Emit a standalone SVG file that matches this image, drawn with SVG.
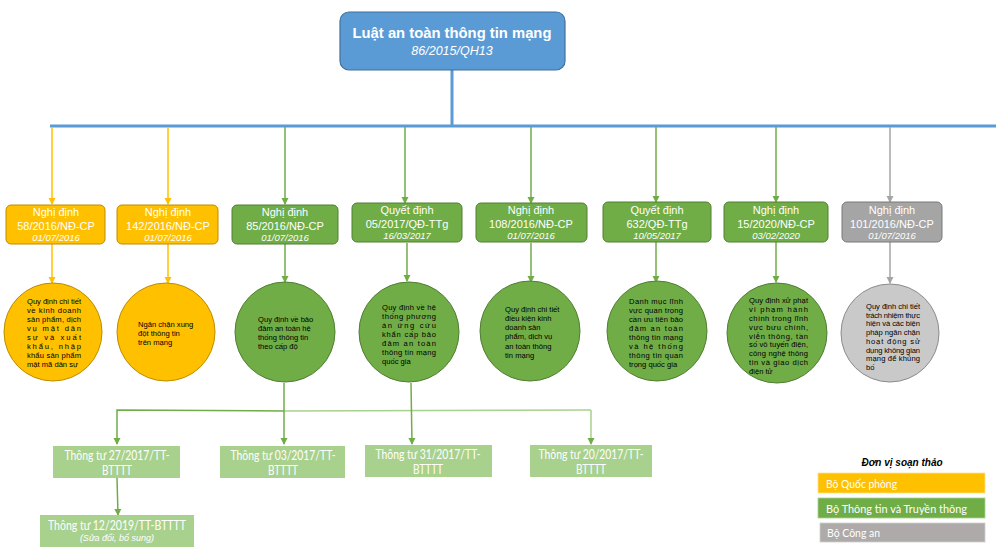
<svg xmlns="http://www.w3.org/2000/svg" width="1000" height="556" viewBox="0 0 1000 556">
<style>
  .sans{font-family:"Liberation Sans",Arial,sans-serif}
  .cal{font-family:Lato,"Open Sans",sans-serif}
  .bt{fill:#fff;font-size:11px;text-anchor:middle}
  .bd{fill:#fff;font-size:9.5px;font-style:italic;text-anchor:middle}
  .ct{fill:#000;font-size:7.6px}
  .or{fill:#ffc000;stroke:#bc8c00;stroke-width:1}
  .gr{fill:#70ad47;stroke:#507e32;stroke-width:1}
  .gy{fill:#a5a5a5;stroke:#787878;stroke-width:1}
  .cgy{fill:#c9c9c9;stroke:#8c8c8c;stroke-width:1}
  .lg{fill:#a9d18e}
  .lo{stroke:#ffc000;stroke-width:1.5;fill:none}
  .lgn{stroke:#70ad47;stroke-width:1.5;fill:none}
  .lgy{stroke:#a5a5a5;stroke-width:1.5;fill:none}
  .llg{stroke:#a9d18e;stroke-width:1.5;fill:none}
  .tt{fill:#fff;font-size:13px;text-anchor:middle}
</style>
<defs>
  <marker id="ao" markerWidth="8" markerHeight="8" refX="6" refY="4" orient="auto" markerUnits="userSpaceOnUse" viewBox="0 0 8 8"><path d="M0,0.5 L7,4 L0,7.5 Z" fill="#ffc000"/></marker>
  <marker id="ag" markerWidth="8" markerHeight="8" refX="6" refY="4" orient="auto" markerUnits="userSpaceOnUse" viewBox="0 0 8 8"><path d="M0,0.5 L7,4 L0,7.5 Z" fill="#70ad47"/></marker>
  <marker id="ay" markerWidth="8" markerHeight="8" refX="6" refY="4" orient="auto" markerUnits="userSpaceOnUse" viewBox="0 0 8 8"><path d="M0,0.5 L7,4 L0,7.5 Z" fill="#a5a5a5"/></marker>
</defs>
<rect width="1000" height="556" fill="#fff"/>

<g id="connectors">
  <line x1="452" y1="70" x2="452" y2="126" stroke="#5b9bd5" stroke-width="3"/>
  <line x1="50" y1="126" x2="996" y2="126" stroke="#5b9bd5" stroke-width="3"/>
  <line class="lo" x1="52" y1="127" x2="52" y2="204" marker-end="url(#ao)"/>
  <line class="lo" x1="168" y1="127" x2="168" y2="204" marker-end="url(#ao)"/>
  <line class="lgn" x1="285" y1="127" x2="285" y2="204" marker-end="url(#ag)"/>
  <line class="lgn" x1="405" y1="127" x2="405" y2="203" marker-end="url(#ag)"/>
  <line class="lgn" x1="531" y1="127" x2="531" y2="203" marker-end="url(#ag)"/>
  <line class="lgn" x1="656" y1="127" x2="656" y2="202" marker-end="url(#ag)"/>
  <line class="lgn" x1="776" y1="127" x2="776" y2="202" marker-end="url(#ag)"/>
  <line class="lgy" x1="890" y1="127" x2="890" y2="202" marker-end="url(#ay)"/>

  <line class="lo" x1="52" y1="244" x2="52" y2="283" marker-end="url(#ao)"/>
  <line class="lo" x1="168" y1="244" x2="168" y2="283" marker-end="url(#ao)"/>
  <line class="lgn" x1="285" y1="244" x2="285" y2="282" marker-end="url(#ag)"/>
  <line class="lgn" x1="407" y1="243" x2="407" y2="281" marker-end="url(#ag)"/>
  <line class="lgn" x1="531" y1="243" x2="531" y2="282" marker-end="url(#ag)"/>
  <line class="lgn" x1="656" y1="242" x2="656" y2="282" marker-end="url(#ag)"/>
  <line class="lgn" x1="776" y1="242" x2="776" y2="282" marker-end="url(#ag)"/>
  <line class="lgy" x1="890" y1="242" x2="890" y2="283" marker-end="url(#ay)"/>

  <line class="llg" x1="284" y1="411" x2="591" y2="410"/>
  <polyline class="llg" points="591,410 591,444" marker-end="url(#ag)"/>
  <line class="lgn" x1="284" y1="383" x2="284" y2="444" marker-end="url(#ag)"/>
  <polyline class="lgn" points="284,411 117,410 117,444" marker-end="url(#ag)"/>
  <line class="lgn" x1="411" y1="383" x2="412" y2="444" marker-end="url(#ag)"/>
  <line class="lgn" x1="117" y1="478" x2="118" y2="515" marker-end="url(#ag)"/>
</g>

<g id="root">
  <rect x="340" y="12" width="225" height="58" rx="9" fill="#5b9bd5" stroke="#41719c" stroke-width="1.2"/>
  <text class="sans" x="452" y="38" fill="#fff" font-size="14.8" font-weight="bold" text-anchor="middle">Luật an toàn thông tin mạng</text>
  <text class="sans" x="452" y="55" fill="#fff" font-size="12.5" font-style="italic" text-anchor="middle">86/2015/QH13</text>
</g>

<g id="n1" class="sans">
  <rect class="or" x="6" y="205" width="99" height="39" rx="5"/>
  <text class="bt" x="56" y="216">Nghị định</text>
  <text class="bt" x="56" y="230">58/2016/NĐ-CP</text>
  <text class="bd" x="56" y="241">01/07/2016</text>
</g>
<g id="n2" class="sans">
  <rect class="or" x="117" y="205" width="101" height="39" rx="5"/>
  <text class="bt" x="168" y="216">Nghị định</text>
  <text class="bt" x="168" y="230">142/2016/NĐ-CP</text>
  <text class="bd" x="168" y="241">01/07/2016</text>
</g>
<g id="n3" class="sans">
  <rect class="gr" x="232" y="205" width="106" height="39" rx="5"/>
  <text class="bt" x="285" y="216">Nghị định</text>
  <text class="bt" x="285" y="230">85/2016/NĐ-CP</text>
  <text class="bd" x="285" y="241">01/07/2016</text>
</g>
<g id="n4" class="sans">
  <rect class="gr" x="352" y="203" width="110" height="39" rx="5"/>
  <text class="bt" x="407" y="214">Quyết định</text>
  <text class="bt" x="407" y="228">05/2017/QĐ-TTg</text>
  <text class="bd" x="407" y="239">16/03/2017</text>
</g>
<g id="n5" class="sans">
  <rect class="gr" x="476" y="203" width="111" height="39" rx="5"/>
  <text class="bt" x="531" y="214">Nghị định</text>
  <text class="bt" x="531" y="228">108/2016/NĐ-CP</text>
  <text class="bd" x="531" y="239">01/07/2016</text>
</g>
<g id="n6" class="sans">
  <rect class="gr" x="603" y="202" width="108" height="40" rx="5"/>
  <text class="bt" x="657" y="214">Quyết định</text>
  <text class="bt" x="657" y="228">632/QĐ-TTg</text>
  <text class="bd" x="657" y="239">10/05/2017</text>
</g>
<g id="n7" class="sans">
  <rect class="gr" x="724" y="202" width="104" height="40" rx="5"/>
  <text class="bt" x="776" y="214">Nghị định</text>
  <text class="bt" x="776" y="228">15/2020/NĐ-CP</text>
  <text class="bd" x="776" y="239">03/02/2020</text>
</g>
<g id="n8" class="sans">
  <rect class="gy" x="842" y="202" width="100" height="40" rx="5"/>
  <text class="bt" x="892" y="214">Nghị định</text>
  <text class="bt" x="892" y="228">101/2016/NĐ-CP</text>
  <text class="bd" x="892" y="239">01/07/2016</text>
</g>

<g id="c1" class="sans">
  <circle class="or" cx="53" cy="332" r="49"/>
  <text class="ct" x="27" y="304" textLength="54" lengthAdjust="spacing">Quy định chi tiết</text>
  <text class="ct" x="27" y="313" textLength="54" lengthAdjust="spacing">về kinh doanh</text>
  <text class="ct" x="27" y="322" textLength="54" lengthAdjust="spacing">sản phẩm, dịch</text>
  <text class="ct" x="27" y="331" textLength="54" lengthAdjust="spacing">vụ mật     dân</text>
  <text class="ct" x="27" y="340" textLength="54" lengthAdjust="spacing">sự và xuất</text>
  <text class="ct" x="27" y="349" textLength="54" lengthAdjust="spacing">khẩu,     nhập</text>
  <text class="ct" x="27" y="358" textLength="54" lengthAdjust="spacing">khẩu sản phẩm</text>
  <text class="ct" x="27" y="367">mật mã dân sự</text>
</g>
<g id="c2" class="sans">
  <circle class="or" cx="166" cy="332" r="49"/>
  <text class="ct" x="138" y="327">Ngăn chặn xung</text>
  <text class="ct" x="138" y="336">đột thông tin</text>
  <text class="ct" x="138" y="345">trên mạng</text>
</g>
<g id="c3" class="sans">
  <circle class="gr" cx="285" cy="332" r="50"/>
  <text class="ct" x="258" y="322">Quy định về bảo</text>
  <text class="ct" x="258" y="331">đảm an toàn hệ</text>
  <text class="ct" x="258" y="340">thống thông tin</text>
  <text class="ct" x="258" y="349">theo cấp độ</text>
</g>
<g id="c4" class="sans">
  <circle class="gr" cx="409" cy="332" r="50"/>
  <text class="ct" x="382" y="310" textLength="54" lengthAdjust="spacing">Quy định về hệ</text>
  <text class="ct" x="382" y="319" textLength="54" lengthAdjust="spacing">thống phương</text>
  <text class="ct" x="382" y="328" textLength="54" lengthAdjust="spacing">án ứng cứu</text>
  <text class="ct" x="382" y="337" textLength="54" lengthAdjust="spacing">khẩn cấp bảo</text>
  <text class="ct" x="382" y="346" textLength="54" lengthAdjust="spacing">đảm an toàn</text>
  <text class="ct" x="382" y="355" textLength="54" lengthAdjust="spacing">thông tin mạng</text>
  <text class="ct" x="382" y="364">quốc gia</text>
</g>
<g id="c5" class="sans">
  <circle class="gr" cx="530" cy="331" r="50"/>
  <text class="ct" x="505" y="312">Quy định chi tiết</text>
  <text class="ct" x="505" y="321">điều kiện kinh</text>
  <text class="ct" x="505" y="330">doanh sản</text>
  <text class="ct" x="505" y="339">phẩm, dịch vụ</text>
  <text class="ct" x="505" y="349">an toàn thông</text>
  <text class="ct" x="505" y="358">tin mạng</text>
</g>
<g id="c6" class="sans">
  <circle class="gr" cx="657" cy="331" r="50"/>
  <text class="ct" x="629" y="304" textLength="54" lengthAdjust="spacing">Danh mục lĩnh</text>
  <text class="ct" x="629" y="313" textLength="54" lengthAdjust="spacing">vực quan trọng</text>
  <text class="ct" x="629" y="322" textLength="54" lengthAdjust="spacing">cần ưu tiên bảo</text>
  <text class="ct" x="629" y="331" textLength="54" lengthAdjust="spacing">đảm an toàn</text>
  <text class="ct" x="629" y="340" textLength="54" lengthAdjust="spacing">thông tin mạng</text>
  <text class="ct" x="629" y="349" textLength="54" lengthAdjust="spacing">và hệ thống</text>
  <text class="ct" x="629" y="358" textLength="54" lengthAdjust="spacing">thông tin quan</text>
  <text class="ct" x="629" y="367">trọng quốc gia</text>
</g>
<g id="c7" class="sans">
  <circle class="gr" cx="777" cy="333" r="50"/>
  <text class="ct" x="749" y="303" textLength="59" lengthAdjust="spacing">Quy định xử phạt</text>
  <text class="ct" x="749" y="312" textLength="59" lengthAdjust="spacing">vi phạm hành</text>
  <text class="ct" x="749" y="321" textLength="59" lengthAdjust="spacing">chính trong lĩnh</text>
  <text class="ct" x="749" y="330" textLength="59" lengthAdjust="spacing">vực bưu chính,</text>
  <text class="ct" x="749" y="339" textLength="59" lengthAdjust="spacing">viễn thông, tần</text>
  <text class="ct" x="749" y="347" textLength="59" lengthAdjust="spacing">số vô tuyến điện,</text>
  <text class="ct" x="749" y="356" textLength="59" lengthAdjust="spacing">công nghệ thông</text>
  <text class="ct" x="749" y="365" textLength="59" lengthAdjust="spacing">tin và giao dịch</text>
  <text class="ct" x="749" y="374">điện tử</text>
</g>
<g id="c8" class="sans">
  <circle class="cgy" cx="890" cy="333" r="49"/>
  <text class="ct" x="866" y="309" textLength="54" lengthAdjust="spacing">Quy định chi tiết</text>
  <text class="ct" x="866" y="318" textLength="54" lengthAdjust="spacing">trách nhiệm thực</text>
  <text class="ct" x="866" y="326" textLength="54" lengthAdjust="spacing">hiện và các biện</text>
  <text class="ct" x="866" y="335" textLength="54" lengthAdjust="spacing">pháp ngăn chặn</text>
  <text class="ct" x="866" y="344" textLength="54" lengthAdjust="spacing">hoạt động sử</text>
  <text class="ct" x="866" y="353" textLength="54" lengthAdjust="spacing">dụng không gian</text>
  <text class="ct" x="866" y="361" textLength="54" lengthAdjust="spacing">mạng để khủng</text>
  <text class="ct" x="866" y="370">bố</text>
</g>

<g id="t1" class="cal">
  <rect class="lg" x="53" y="446" width="127" height="32"/>
  <text class="tt" x="117" y="460" textLength="105" lengthAdjust="spacingAndGlyphs">Thông tư 27/2017/TT-</text>
  <text class="tt" x="117" y="475" textLength="30" lengthAdjust="spacingAndGlyphs">BTTTT</text>
</g>
<g id="t2" class="cal">
  <rect class="lg" x="220" y="446" width="125" height="32"/>
  <text class="tt" x="283" y="460" textLength="105" lengthAdjust="spacingAndGlyphs">Thông tư 03/2017/TT-</text>
  <text class="tt" x="283" y="475" textLength="30" lengthAdjust="spacingAndGlyphs">BTTTT</text>
</g>
<g id="t3" class="cal">
  <rect class="lg" x="365" y="445" width="127" height="32"/>
  <text class="tt" x="428" y="459" textLength="105" lengthAdjust="spacingAndGlyphs">Thông tư 31/2017/TT-</text>
  <text class="tt" x="428" y="474" textLength="30" lengthAdjust="spacingAndGlyphs">BTTTT</text>
</g>
<g id="t4" class="cal">
  <rect class="lg" x="530" y="445" width="122" height="32"/>
  <text class="tt" x="591" y="459" textLength="105" lengthAdjust="spacingAndGlyphs">Thông tư 20/2017/TT-</text>
  <text class="tt" x="591" y="474" textLength="30" lengthAdjust="spacingAndGlyphs">BTTTT</text>
</g>
<g id="t5" class="cal">
  <rect class="lg" x="40" y="515" width="154" height="32"/>
  <text class="tt" x="117" y="530" textLength="138" lengthAdjust="spacingAndGlyphs">Thông tư 12/2019/TT-BTTTT</text>
  <text x="117" y="541" fill="#fff" font-size="9" font-style="italic" text-anchor="middle" font-family="Liberation Sans,Arial,sans-serif">(Sửa đổi, bổ sung)</text>
</g>

<g id="legend">
  <text x="902" y="466" font-family="Liberation Sans,Arial,sans-serif" font-size="10" font-style="italic" font-weight="bold" text-anchor="middle" fill="#000">Đơn vị soạn thảo</text>
  <rect x="818" y="473" width="167" height="20" fill="#ffc000" stroke="#ffe08a" stroke-width="0.8"/>
  <text class="cal" x="826" y="488" fill="#fff" font-size="12" textLength="71" lengthAdjust="spacingAndGlyphs">Bộ Quốc phòng</text>
  <rect x="818" y="498" width="167" height="20" fill="#70ad47" stroke="#a9d18e" stroke-width="0.8"/>
  <text class="cal" x="826" y="513" fill="#fff" font-size="12" textLength="141" lengthAdjust="spacingAndGlyphs">Bộ Thông tin và Truyền thông</text>
  <rect x="820" y="523" width="165" height="19" fill="#aeaaaa" stroke="#d0cece" stroke-width="0.8"/>
  <text class="cal" x="827" y="537" fill="#fff" font-size="12" textLength="53" lengthAdjust="spacingAndGlyphs">Bộ Công an</text>
</g>
</svg>
